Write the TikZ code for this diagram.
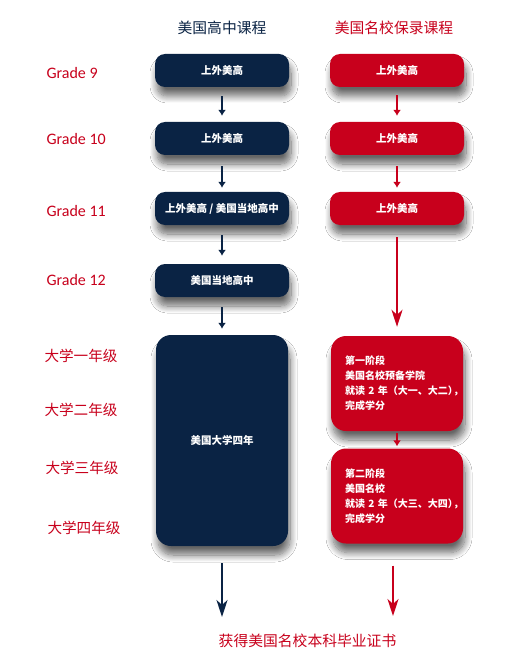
\documentclass[tikz,border=0pt]{standalone}
\usepackage{fontspec}
\newfontfamily\cjk{Noto Sans CJK SC}
\newfontfamily\gradefont{Carlito}
\usetikzlibrary{
  arrows.meta,
  shadows.blur
}
\definecolor{navy}{RGB}{10,35,68}
\definecolor{schoolred}{RGB}{200,0,28}
\tikzset{
  % For all boxes.  A soft shadow sits below each of them.
  box/.style={
    rounded corners=10pt,
    minimum width=134pt,
    minimum height=33pt,
    inner sep=0pt,
    text=white,
    font={\cjk\bfseries\fontsize{10.5}{15}\selectfont},
    blur shadow={shadow xshift=2pt,
                 shadow yshift=-9pt,
                 shadow blur radius=7pt,
                 shadow blur steps=12,
                 shadow opacity=60}},
%
  % For the high school column.
  navy box/.style={
    box,
    fill=navy},
%
  % For the guaranteed admission column.
  red box/.style={
    box,
    fill=schoolred},
%
  % For the tall boxes.
  tall box/.style={
    rounded corners=15pt,
    minimum width=132pt},
%
  % For the two stage boxes, text starts at the left.
  stage box/.style={
    red box,
    tall box,
    minimum height=95pt,
    text width=104pt,
    inner xsep=14pt,
    align=left,
    font={\cjk\bfseries\fontsize{10}{15}\selectfont}},
%
  % For the short arrows between boxes.
  short arrow/.style={
    line width=1.5pt,
    -{Latex[length=6pt,width=8pt]}},
%
  % For the long arrows.
  long arrow/.style={
    line width=2pt,
    -{Stealth[length=17pt,width=11pt,inset=5pt]}},
%
  % For column titles and the final line.
  header/.style={
    font={\cjk\fontsize{14.8}{16}\selectfont}},
%
  % For the grades on the left.
  grade label/.style={
    anchor=west,
    text=schoolred,
    font={\gradefont\fontsize{16}{18}\selectfont}},
%
  % For the college years on the left.
  year label/.style={
    anchor=west,
    text=schoolred,
    font={\cjk\fontsize{14.6}{16}\selectfont}}
}

\begin{document}
\begin{tikzpicture}[x=1pt,y=-1pt]
  \useasboundingbox[fill=white] (0,0) rectangle (529,652);

  \node[header, text=navy] (hsHead) at (222,28) {美国高中课程};
  \node[header, text=schoolred] (msHead) at (394,28) {美国名校保录课程};

  \foreach \grade/\yy in {9/73, 10/139, 11/211, 12/280}
    \node[grade label] (grade\grade) at (43,\yy) {Grade \grade};

  \foreach \name/\xx/\yy [count=\i] in {一/41/356, 二/41/410,
                                        三/42/468, 四/44/528}
    \node[year label] (year\i) at (\xx,\yy) {大学\name 年级};

  % High school column.
  \node[navy box] (hs1) at (222,70.5) {上外美高};
  \node[navy box] (hs2) at (222,138.5) {上外美高};
  \node[navy box] (hs3) at (222,208.5) {上外美高 / 美国当地高中};
  \node[navy box] (hs4) at (222,280.5) {美国当地高中};
  \node[navy box, tall box,
        minimum height=211pt] (univ) at (222,440.5) {美国大学四年};

  % Guaranteed admission column.
  \node[red box] (ms1) at (397,70.5) {上外美高};
  \node[red box] (ms2) at (397,138.5) {上外美高};
  \node[red box] (ms3) at (397,208.5) {上外美高};
  \node[stage box] (stage1) at (397,383.5)
    {第一阶段\\美国名校预备学院\\就读~2~年（大一、大二）\kern-0.45em，\\完成学分};
  \node[stage box] (stage2) at (397,496)
    {第二阶段\\美国名校\\就读~2~年（大三、大四）\kern-0.45em，\\完成学分};

  \coordinate (hsEnd) at (222,617);
  \coordinate (msEnd) at (393,616);

  \draw[short arrow, navy, shorten <=9pt, shorten >=6pt] (hs1) -- (hs2);
  \draw[short arrow, navy, shorten <=11pt, shorten >=4pt] (hs2) -- (hs3);
  \draw[short arrow, navy, shorten <=10pt, shorten >=8pt] (hs3) -- (hs4);
  \draw[short arrow, navy, shorten <=10pt, shorten >=6pt] (hs4) -- (univ);
  \draw[long arrow, navy, shorten <=17pt] (univ) -- (hsEnd);

  \draw[short arrow, schoolred, shorten <=8pt, shorten >=6pt] (ms1) -- (ms2);
  \draw[short arrow, schoolred, shorten <=11pt, shorten >=4pt] (ms2) -- (ms3);
  \draw[long arrow, schoolred, shorten <=12pt, shorten >=9pt] (ms3) -- (stage1);
  \draw[short arrow, schoolred, shorten <=2pt, shorten >=2pt] (stage1) -- (stage2);
  \draw[long arrow, schoolred, shorten <=22pt] (stage2.south -| msEnd) -- (msEnd);

  \node[header, text=schoolred] (diploma) at (307.5,641) {获得美国名校本科毕业证书};
\end{tikzpicture}
\end{document}
